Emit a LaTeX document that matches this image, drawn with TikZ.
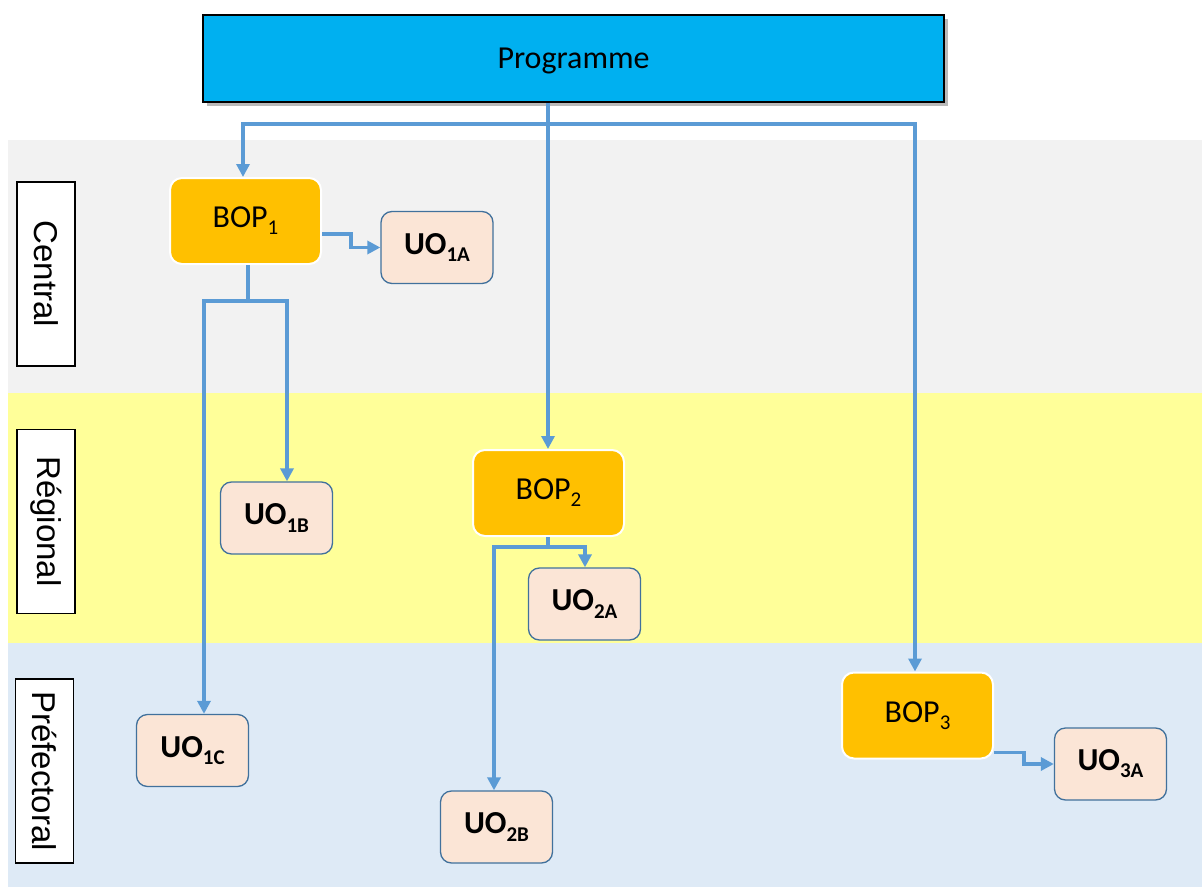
\documentclass[tikz,border=0pt]{standalone}
\usepackage{fontspec}
\setmainfont{Carlito}
\newfontfamily\sidefont{Liberation Sans}
\usetikzlibrary{arrows.meta,shadows}

\definecolor{bandgray}{HTML}{F2F2F2}
\definecolor{bandyellow}{HTML}{FFFF99}
\definecolor{bandblue}{HTML}{DEEAF6}
\definecolor{progblue}{HTML}{00B0F0}
\definecolor{bopfill}{HTML}{FFC000}
\definecolor{uofill}{HTML}{FBE5D6}
\definecolor{uoline}{HTML}{41719C}
\definecolor{linkblue}{HTML}{5B9BD5}

% subscript in the current font
\newcommand{\sbx}[1]{\raisebox{-0.22em}{\fontsize{21}{23}\selectfont #1}}

\tikzset{
  prog/.style={draw=black, line width=1.5pt, fill=progblue, minimum width=741pt,
    minimum height=87pt, font=\fontsize{32}{38}\selectfont, text depth=0pt,
    drop shadow={shadow xshift=4pt, shadow yshift=-4pt, opacity=0.45, fill=black!60}},
  bop/.style={draw=white, line width=2pt, fill=bopfill, rounded corners=12pt,
    minimum width=151pt, minimum height=86pt, font=\fontsize{32}{38}\selectfont},
  uo/.style={draw=uoline, line width=1.3pt, fill=uofill, rounded corners=11pt,
    minimum width=112pt, minimum height=72pt, font=\bfseries\fontsize{32}{38}\selectfont},
  side/.style={draw=black, line width=1.5pt, fill=white, minimum width=58pt,
    minimum height=184pt},
  sidetext/.style={rotate=-90, font=\sidefont\fontsize{33}{38}\selectfont},
  link/.style={draw=linkblue, line width=3.5pt},
  tip/.style={-{Triangle[length=13pt,width=13pt]}},
  tips/.style={{Triangle[length=13pt,width=13pt]}-{Triangle[length=13pt,width=13pt]}}
}

\begin{document}
\begin{tikzpicture}[x=1pt,y=-1pt]
  \useasboundingbox (0,0) rectangle (1202,888);

  % administrative levels
  \fill[bandgray]   (8,140) rectangle (1202,393);
  \fill[bandyellow] (8,393) rectangle (1202,643);
  \fill[bandblue]   (8,643) rectangle (1202,887);

  \node[side] (lc) at (46,274) {};
  \node[sidetext] at (lc) {Central};
  \node[side] (lr) at (46,521.5) {};
  \node[sidetext] at (lr) {Régional};
  \node[side] (lp) at (44.5,771) {};
  \node[sidetext] at (lp) {Préfectoral};

  % programme and budgets
  \node[prog] (prog) at (573.5,58.5) {Programme};

  \node[bop] (bop1) at (245.5,221) {BOP\sbx{1}};
  \node[bop] (bop2) at (548.5,493) {BOP\sbx{2}};
  \node[bop] (bop3) at (917.5,715.5) {BOP\sbx{3}};

  \node[uo] (uo1a) at (437,247.5)   {UO\sbx{1A}};
  \node[uo] (uo1b) at (276.5,518)   {UO\sbx{1B}};
  \node[uo] (uo1c) at (192.5,750.5) {UO\sbx{1C}};
  \node[uo] (uo2a) at (584.5,604)   {UO\sbx{2A}};
  \node[uo] (uo2b) at (496.5,827)   {UO\sbx{2B}};
  \node[uo] (uo3a) at (1110.5,764)  {UO\sbx{3A}};

  % junction points
  \coordinate (pt)  at (548,124);
  \coordinate (ptl) at (243,124);
  \coordinate (ptr) at (915,124);
  \coordinate (b1)  at (248,301);
  \coordinate (b1l) at (204,301);
  \coordinate (b1r) at (287,301);
  \coordinate (b2)  at (548,547);
  \coordinate (b2l) at (494,547);
  \coordinate (b2r) at (585,547);

  % programme to BOPs
  \draw[link] (pt |- prog.south) -- (pt);
  \draw[link,tips] (ptl |- bop1.north) -- (ptl) -- (ptr) -- (ptr |- bop3.north);
  \draw[link,tip] (pt) -- (pt |- bop2.north);

  % BOP 1
  \draw[link,tip] ([yshift=-13pt]bop1.east) -- ++(29,0) |- (uo1a.west);
  \draw[link] (b1 |- bop1.south) -- (b1);
  \draw[link,tips] (b1l |- uo1c.north) -- (b1l) -- (b1r) -- (b1r |- uo1b.north);

  % BOP 2
  \draw[link] (b2 |- bop2.south) -- (b2);
  \draw[link,tips] (b2l |- uo2b.north) -- (b2l) -- (b2r) -- (b2r |- uo2a.north);

  % BOP 3
  \draw[link,tip] ([yshift=-37pt]bop3.east) -- ++(30,0) |- (uo3a.west);
\end{tikzpicture}
\end{document}
